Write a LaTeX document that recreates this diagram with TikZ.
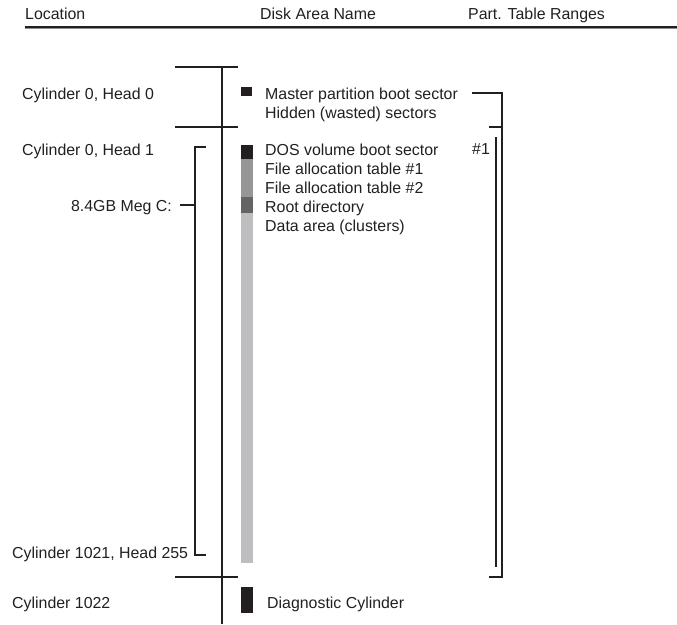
\documentclass[tikz,border=0pt]{standalone}
\usepackage{fontspec}
\setmainfont{Liberation Sans}
\definecolor{ink}{HTML}{231F20}
\definecolor{fatgray}{RGB}{150,150,150}
\definecolor{rootgray}{RGB}{100,100,100}
\definecolor{datagray}{RGB}{190,190,192}
\begin{document}
\begin{tikzpicture}[x=1pt,y=-1pt,
  lbl/.style={anchor=base west,inner sep=0pt,font=\fontsize{15.9}{19}\selectfont,text=ink},
  lblr/.style={anchor=base east,inner sep=0pt,font=\fontsize{15.9}{19}\selectfont,text=ink},
  rule/.style={draw=ink,line width=1.3pt},
  seg/.style={draw=none,inner sep=0pt,outer sep=0pt}]
\useasboundingbox (0,0) rectangle (677,624);
% header
\node[lbl] (hloc) at (25,19) {Location};
\node[lbl] (hname) at (260,19) {Disk Area Name};
\node[lbl] (hpart) at (468,19) {Part. Table Ranges};
\coordinate (hl) at (25,27);
\coordinate (hr) at (677,27);
\draw[ink,line width=2pt] (hl) -- (hr);
\draw[black!45,line width=1pt] ([yshift=-1.8pt]hl) -- ([yshift=-1.8pt]hr);
% main axis
\coordinate (vtop) at (222,67);
\coordinate (vbot) at (222,624);
\draw[rule] (vtop) -- (vbot);
\coordinate (c1l) at (175,67);  \coordinate (c1r) at (238,67);
\coordinate (c2l) at (175,127); \coordinate (c2r) at (238,127);
\coordinate (c3l) at (175,577); \coordinate (c3r) at (238,577);
\draw[rule] (c1l) -- (c1r);
\draw[rule] (c2l) -- (c2r);
\draw[rule] (c3l) -- (c3r);
% location labels
\node[lbl] (l00) at (22,99) {Cylinder 0, Head 0};
\node[lbl] (l01) at (22,155) {Cylinder 0, Head 1};
\node[lblr] (lc) at (172,211) {8.4GB Meg C:};
\node[lbl] (l1021) at (12,558) {Cylinder 1021, Head 255};
\node[lbl] (l1022) at (12,608) {Cylinder 1022};
% left bracket
\coordinate (lbt) at (206,147);
\coordinate (lbb) at (206,555);
\coordinate (lbm) at (180,205);
\draw[rule] (lbt) -- (195,147) -- (195,555) -- (lbb);
\draw[rule] (lbm) -- (195,205);
% bar segments
\fill[ink] (241,87) rectangle (252,96);
\fill[ink] (241,145) rectangle (253,159);
\fill[fatgray] (241,159) rectangle (253,197);
\fill[rootgray] (241,197) rectangle (253,213);
\fill[datagray] (241,213) rectangle (253,563);
\fill[ink] (241,587) rectangle (253,613);
% disk area names
\node[lbl] (mbr) at (265,99) {Master partition boot sector};
\node[lbl] (hid) at (265,118) {Hidden (wasted) sectors};
\node[lbl] (dos) at (265,155) {DOS volume boot sector};
\node[lbl] (fat1) at (265,174) {File allocation table \#1};
\node[lbl] (fat2) at (265,193) {File allocation table \#2};
\node[lbl] (root) at (265,212) {Root directory};
\node[lbl] (data) at (265,231) {Data area (clusters)};
\node[lbl] (diag) at (267,608) {Diagnostic Cylinder};
% partition table ranges
\node[lbl] (p1) at (472,154) {\#1};
\coordinate (ot) at (472,93);
\coordinate (ob) at (489,577);
\coordinate (otk) at (489,127);
\draw[rule] (ot) -- (502,93) -- (502,577) -- (ob);
\draw[rule] (otk) -- (502,127);
\coordinate (it) at (496,137);
\coordinate (ib) at (496,567);
\draw[rule,line width=1.6pt] (it) -- (ib);
\end{tikzpicture}
\end{document}
